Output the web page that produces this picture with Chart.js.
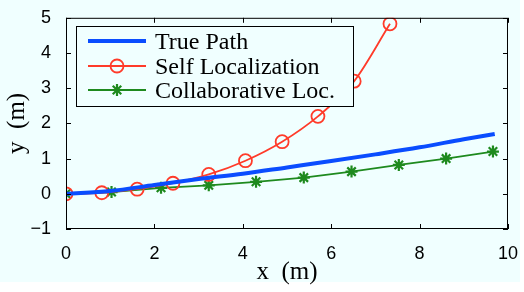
<!DOCTYPE html>
<html>
<head>
<meta charset="utf-8">
<script src="https://cdn.jsdelivr.net/npm/chart.js@4"></script>
<style>
  html, body { margin: 0; padding: 0; background: #ffffff; }
  canvas { display: block; }
</style>
</head>
<body>
<canvas id="myChart" width="524" height="292"></canvas>
<script>
// data
var trueX = [0, 1, 2, 3, 4, 5, 6, 7, 8, 9, 9.7];
var trueY = [0, 0.08, 0.25, 0.42, 0.57, 0.75, 0.93, 1.12, 1.32, 1.55, 1.7];

var selfX = [0, 0.81, 1.61, 2.42, 3.23, 4.06, 4.89, 5.7, 6.52, 7.33];
var selfY = [0, 0.03, 0.13, 0.3, 0.55, 0.94, 1.48, 2.2, 3.2, 4.83];

var collabX = [0, 1.03, 2.15, 3.23, 4.3, 5.38, 6.46, 7.53, 8.6, 9.66];
var collabY = [0, 0.05, 0.17, 0.24, 0.34, 0.46, 0.63, 0.82, 1.0, 1.2];

var xTicks = [0, 2, 4, 6, 8, 10];
var yTicks = [-1, 0, 1, 2, 3, 4, 5];

var labels = ["True Path", "Self Localization", "Collaborative Loc."];

function pts(xs, ys) {
    return xs.map(function(x, i) { return { x: x, y: ys[i] }; });
}

var blue = '#0a4dff';
var red = '#ff3b2a';
var green = '#1e8a1e';

// background, box, inward ticks, axis titles, legend
const decor = {
    id: 'decor',
    beforeDraw: function(chart) {
        const c = chart.ctx;
        c.save();
        c.fillStyle = '#f0ffff';
        c.fillRect(0, 0, 520, 282);
        c.restore();
    },
    afterDraw: function(chart) {
        const c = chart.ctx;
        const a = chart.chartArea;
        const sx = chart.scales.x, sy = chart.scales.y;
        c.save();
        c.strokeStyle = '#000';
        c.lineWidth = 1;
        c.strokeRect(a.left + 0.5, a.top + 0.5, a.right - a.left - 1, a.bottom - a.top - 1);
        c.beginPath();
        xTicks.forEach(function(v) {
            let p = Math.round(sx.getPixelForValue(v)) + 0.5;
            c.moveTo(p, a.bottom); c.lineTo(p, a.bottom - 5);
            c.moveTo(p, a.top); c.lineTo(p, a.top + 5);
        });
        yTicks.forEach(function(v) {
            let p = Math.round(sy.getPixelForValue(v)) + 0.5;
            c.moveTo(a.left, p); c.lineTo(a.left + 5, p);
            c.moveTo(a.right, p); c.lineTo(a.right - 5, p);
        });
        c.stroke();

        // axis titles
        c.fillStyle = '#000';
        c.font = '25px "Liberation Serif"';
        c.textAlign = 'center';
        c.textBaseline = 'middle';
        c.fillText('x  (m)', (a.left + a.right) / 2, 272);
        c.translate(17, (a.top + a.bottom) / 2);
        c.rotate(-Math.PI / 2);
        c.fillText('y  (m)', 0, 0);
        c.restore();

        // legend
        c.save();
        c.fillStyle = '#f0ffff';
        c.fillRect(76.5, 26.5, 277, 80);
        c.strokeStyle = '#000';
        c.lineWidth = 1;
        c.strokeRect(76.5, 26.5, 277, 80);
        var rows = [41, 66, 90];
        chart.data.datasets.forEach(function(ds, i) {
            let y = rows[i];
            c.strokeStyle = ds.borderColor;
            c.lineWidth = ds.borderWidth;
            c.beginPath();
            c.moveTo(88, y); c.lineTo(146, y);
            c.stroke();
            if (ds.pointRadius > 0) {
                c.fillStyle = 'rgba(0,0,0,0)';
                c.lineWidth = ds.pointBorderWidth;
                Chart.helpers.drawPoint(c, {
                    pointStyle: ds.pointStyle,
                    radius: ds.pointRadius,
                    borderWidth: ds.pointBorderWidth
                }, 117, y);
            }
            c.fillStyle = '#000';
            c.font = '24px "Liberation Serif"';
            c.textAlign = 'left';
            c.textBaseline = 'middle';
            c.fillText(labels[i], 155, y + 2);
        });
        c.restore();
    }
};

function minus(v) {
    return String(v).replace('-', '\u2212');
}

new Chart(document.getElementById('myChart'), {
    type: 'line',
    data: {
        datasets: [{
            label: labels[0],
            data: pts(trueX, trueY),
            borderColor: blue,
            borderWidth: 4,
            pointRadius: 0,
            cubicInterpolationMode: 'monotone'
        }, {
            label: labels[1],
            data: pts(selfX, selfY),
            borderColor: red,
            borderWidth: 1.8,
            pointStyle: 'circle',
            pointRadius: 6.5,
            pointBorderWidth: 1.8,
            pointBorderColor: red,
            pointBackgroundColor: 'rgba(0,0,0,0)',
            cubicInterpolationMode: 'monotone'
        }, {
            label: labels[2],
            data: pts(collabX, collabY),
            borderColor: green,
            borderWidth: 1.8,
            pointStyle: 'star',
            pointRadius: 6,
            pointBorderWidth: 2.2,
            pointBorderColor: green,
            pointBackgroundColor: green,
            tension: 0
        }]
    },
    options: {
        responsive: false,
        animation: false,
        layout: { padding: { left: 0, right: 12, top: 16, bottom: 0 } },
        plugins: { legend: { display: false }, tooltip: { enabled: false } },
        scales: {
            x: {
                type: 'linear',
                min: 0, max: 10,
                afterFit: function(s) { s.height = 63; },
                afterBuildTicks: function(s) { s.ticks = xTicks.map(function(v) { return { value: v }; }); },
                grid: { display: false },
                border: { display: false },
                ticks: { color: '#000', padding: 6, maxRotation: 0, font: { family: '"Liberation Sans"', size: 18 } }
            },
            y: {
                type: 'linear',
                min: -1, max: 5,
                afterFit: function(s) { s.width = 66; },
                afterBuildTicks: function(s) { s.ticks = yTicks.map(function(v) { return { value: v }; }); },
                grid: { display: false },
                border: { display: false },
                ticks: { color: '#000', padding: 7, callback: minus, font: { family: '"Liberation Sans"', size: 18 } }
            }
        }
    },
    plugins: [decor]
});
</script>
</body>
</html>
